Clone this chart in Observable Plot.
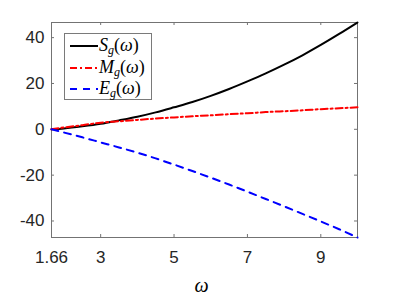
<!DOCTYPE html>
<html><head><meta charset="utf-8">
<script src="https://cdn.jsdelivr.net/npm/d3@7"></script>
<script src="https://cdn.jsdelivr.net/npm/@observablehq/plot@0.6"></script>
<style>
body{margin:0;background:#fff;}
#wrap{position:relative;width:395px;height:296px;overflow:hidden;}
#legend{position:absolute;left:64px;top:33px;width:88px;height:67px;border:1px solid #7a7a7a;background:#fff;box-sizing:border-box;}
.row{position:absolute;left:0;height:22px;width:100%;}
.row svg{position:absolute;left:5px;top:0;}
.row span{position:absolute;left:34px;top:0px;font-family:"Liberation Serif",serif;font-size:18px;line-height:20px;color:#000;white-space:nowrap;}
.row sub{font-size:12px;vertical-align:-3px;line-height:0;}
</style>
</head><body>
<div id="wrap"><div id="chart"></div><div id="legend"></div></div>
<script>
const omega = [1.66, 2, 2.5, 3, 3.5, 4, 4.5, 5, 5.5, 6, 6.5, 7, 7.5, 8, 8.5, 9, 9.5, 10];
const S = [0, 0.4, 1.3, 2.4, 3.9, 5.5, 7.4, 9.6, 11.9, 14.6, 17.6, 20.9, 24.4, 28.2, 32.3, 36.8, 41.6, 46.6];
const M = [0, 0.8, 1.8, 2.9, 3.5, 4.1, 4.7, 5.2, 5.7, 6.1, 6.6, 7.0, 7.5, 7.9, 8.3, 8.8, 9.2, 9.6];
const E = [0, -1.4, -3.5, -5.7, -7.9, -10.2, -12.7, -15.4, -18.2, -21.1, -24.1, -27.2, -30.4, -33.6, -36.9, -40.2, -43.6, -47.2];
const xTicks = [1.66, 3, 5, 7, 9];
const yTicks = [-40, -20, 0, 20, 40];
const seriesNames = ["S", "M", "E"];
const seriesColors = ["#000000", "#ff0000", "#0000ff"];
const seriesDash = [null, "7,3,2,3", "7,6"];

const values = [S, M, E];
const rows = seriesNames.flatMap((s, k) => omega.map((w, i) => ({w, v: values[k][i], s})));
const axisColor = "#737373";
const innerH = 296 - 22 - 59, innerW = 395 - 51 - 38;

const chart = Plot.plot({
  width: 395, height: 296,
  marginLeft: 51, marginRight: 38, marginTop: 22, marginBottom: 59,
  style: {fontFamily: "Liberation Sans, Arial, sans-serif", fontSize: "17px", color: "#262626", background: "#fff", overflow: "visible"},
  x: {domain: [omega[0], omega[omega.length - 1]]},
  y: {domain: [Math.min(...E), Math.max(...S)]},
  marks: [
    Plot.frame({stroke: axisColor}),
    Plot.tickX(xTicks, {x: d => d, insetTop: innerH - 3, stroke: axisColor}),
    Plot.tickX(xTicks, {x: d => d, insetBottom: innerH - 3, stroke: axisColor}),
    Plot.tickY(yTicks, {y: d => d, insetRight: innerW - 3, stroke: axisColor}),
    Plot.tickY(yTicks, {y: d => d, insetLeft: innerW - 3, stroke: axisColor}),
    Plot.axisX(xTicks, {tickSize: 0, tickPadding: 13, tickFormat: d => String(d), label: null}),
    Plot.axisY(yTicks, {tickSize: 0, tickPadding: 7, tickFormat: d => String(d), label: null}),
    ...seriesNames.map((s, k) => Plot.line(rows.filter(r => r.s === s), {
      x: "w", y: "v", stroke: seriesColors[k], strokeWidth: 2,
      strokeDasharray: seriesDash[k], curve: "monotone-x"
    })),
    Plot.text(["ω"], {text: d => d, frameAnchor: "bottom", dy: 54, dx: -3, fontFamily: "Liberation Serif, serif", fontStyle: "italic", fontSize: 20, fill: "#000"})
  ]
});
document.getElementById("chart").appendChild(chart);

const legend = document.getElementById("legend");
const rowTops = [1, 23, 44];
seriesNames.forEach((s, k) => {
  const row = document.createElement("div");
  row.className = "row";
  row.style.top = rowTops[k] + "px";
  row.innerHTML = `<svg width="29" height="22"><line x1="0" x2="28" y1="11" y2="11" stroke="${seriesColors[k]}" stroke-width="2" ${seriesDash[k] ? `stroke-dasharray="${seriesDash[k]}"` : ""}/></svg><span><i>${s}</i><sub><i>g</i></sub>(<i>ω</i>)</span>`;
  legend.appendChild(row);
});
</script>
</body></html>
